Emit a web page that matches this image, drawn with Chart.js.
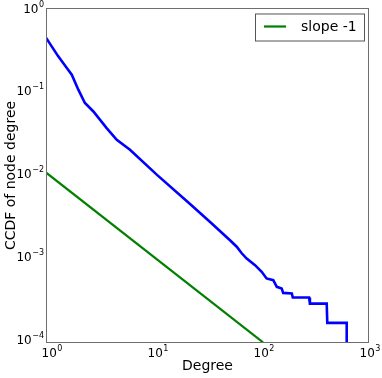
<!DOCTYPE html>
<html>
<head>
<meta charset="utf-8">
<script src="https://cdn.jsdelivr.net/npm/chart.js@4.4.1/dist/chart.umd.min.js"></script>
<style>
  html, body { margin: 0; padding: 0; background: #fff; }
  #wrap { width: 382px; height: 378px; }
</style>
</head>
<body>
<div id="wrap"><canvas id="ccdfChart" width="382" height="378"></canvas></div>
<script>
// values
const degree = [0.9, 1.17, 1.41, 1.57, 1.81, 2.09, 2.51, 3.35, 4.17, 5.56, 10, 20.5, 31.7,
    48.8, 56.5, 63, 70.2, 84.1, 97.2, 108, 125, 135, 150, 155, 187, 191, 272, 277, 399, 404, 616, 616];
const ccdf = [0.436, 0.261, 0.189, 0.157, 0.1035, 0.0714, 0.0565, 0.0356, 0.0257, 0.0195, 0.0097,
    0.00432, 0.00262, 0.00158, 0.00132, 0.0011, 0.00095, 0.00079, 0.000657, 0.000547, 0.000521,
    0.000433, 0.000414, 0.000366, 0.00036, 0.000322, 0.000322, 0.000272, 0.000272, 0.000159,
    0.000159, 0.00001];
const slopeX = [0.9, 100];
const slopeY = [0.0103, 0.0000927];
const xTicks = [1, 10, 100, 1000];
const yTicks = [0.0001, 0.001, 0.01, 0.1, 1];

const FONT = 'DejaVu Sans';

// 10 with a small raised exponent, like matplotlib's mathtext labels
function drawPow(ctx, v, x, y, align) {
    const e = String(Math.round(Math.log10(v))).replace('-', '\u2212');
    ctx.font = '12px "' + FONT + '"';
    const wb = ctx.measureText('10').width;
    ctx.font = '8px "' + FONT + '"';
    const we = ctx.measureText(e).width;
    let x0 = align === 'right' ? x - wb - we - 0.5 : x - (wb + we + 0.5) / 2;
    ctx.font = '12px "' + FONT + '"';
    ctx.fillText('10', x0, y);
    ctx.font = '8px "' + FONT + '"';
    ctx.fillText(e, x0 + wb + 0.5, y - 6);
}

const powTicks = {
    id: 'powTicks',
    afterDraw(chart) {
        const ctx = chart.ctx, a = chart.chartArea;
        const sx = chart.scales.x, sy = chart.scales.y;
        ctx.save();
        ctx.fillStyle = '#000';
        ctx.textBaseline = 'alphabetic';
        sx.ticks.forEach(t => drawPow(ctx, t.value, sx.getPixelForValue(t.value) + 1, a.bottom + 13.5, 'center'));
        sy.ticks.forEach(t => drawPow(ctx, t.value, a.left - 2, sy.getPixelForValue(t.value) + 4.5, 'right'));
        ctx.restore();
    }
};

const frame = {
    id: 'frame',
    afterDraw(chart) {
        const ctx = chart.ctx, a = chart.chartArea;
        ctx.save();
        ctx.strokeStyle = '#6e6e6e';
        ctx.lineWidth = 1;
        ctx.strokeRect(a.left + 0.5, a.top + 0.5, a.right - a.left - 1, a.bottom - a.top - 1);

        // legend box, top right inside the axes
        const ds = chart.data.datasets[1];
        const bx = a.right - 114, by = a.top + 5.5, bw = 109, bh = 27;
        ctx.fillStyle = '#fff';
        ctx.fillRect(bx, by, bw, bh);
        ctx.strokeStyle = '#555';
        ctx.strokeRect(bx + 0.5, by + 0.5, bw, bh);
        ctx.strokeStyle = ds.borderColor;
        ctx.lineWidth = ds.borderWidth;
        ctx.beginPath();
        ctx.moveTo(bx + 9, by + 13);
        ctx.lineTo(bx + 31, by + 13);
        ctx.stroke();
        ctx.fillStyle = '#000';
        ctx.font = '14px "' + FONT + '"';
        ctx.textBaseline = 'middle';
        ctx.fillText(ds.label, bx + 46, by + 14);
        ctx.restore();
    }
};

new Chart(document.getElementById('ccdfChart').getContext('2d'), {
    type: 'line',
    data: {
        datasets: [{
            label: 'ccdf',
            data: degree.map((d, i) => ({ x: d, y: ccdf[i] })),
            borderColor: '#0000ff',
            borderWidth: 2.6,
            pointRadius: 0,
            tension: 0,
            clip: 0
        }, {
            label: 'slope -1',
            data: slopeX.map((d, i) => ({ x: d, y: slopeY[i] })),
            borderColor: '#008000',
            borderWidth: 2.2,
            pointRadius: 0,
            tension: 0,
            clip: 0
        }]
    },
    options: {
        responsive: false,
        animation: false,
        layout: { padding: { top: 8, right: 13, left: 0, bottom: 0 } },
        plugins: { legend: { display: false }, tooltip: { enabled: false } },
        scales: {
            x: {
                type: 'logarithmic',
                min: 0.897,
                max: 1000,
                afterBuildTicks: s => { s.ticks = xTicks.map(v => ({ value: v })); },
                afterFit: s => { s.height = 35; },
                ticks: { display: false },
                grid: { display: false },
                border: { display: false },
                title: {
                    display: true,
                    text: 'Degree',
                    color: '#000',
                    font: { family: FONT, size: 14 },
                    padding: { top: 0, bottom: 3 }
                }
            },
            y: {
                type: 'logarithmic',
                min: 0.000091,
                max: 1,
                afterBuildTicks: s => { s.ticks = yTicks.map(v => ({ value: v })); },
                afterFit: s => { s.width = 46; },
                ticks: { display: false },
                grid: { display: false },
                border: { display: false },
                title: {
                    display: true,
                    text: 'CCDF of node degree',
                    color: '#000',
                    font: { family: FONT, size: 14 },
                    padding: { top: 3, bottom: 0 }
                }
            }
        }
    },
    plugins: [frame, powTicks]
});
</script>
</body>
</html>
